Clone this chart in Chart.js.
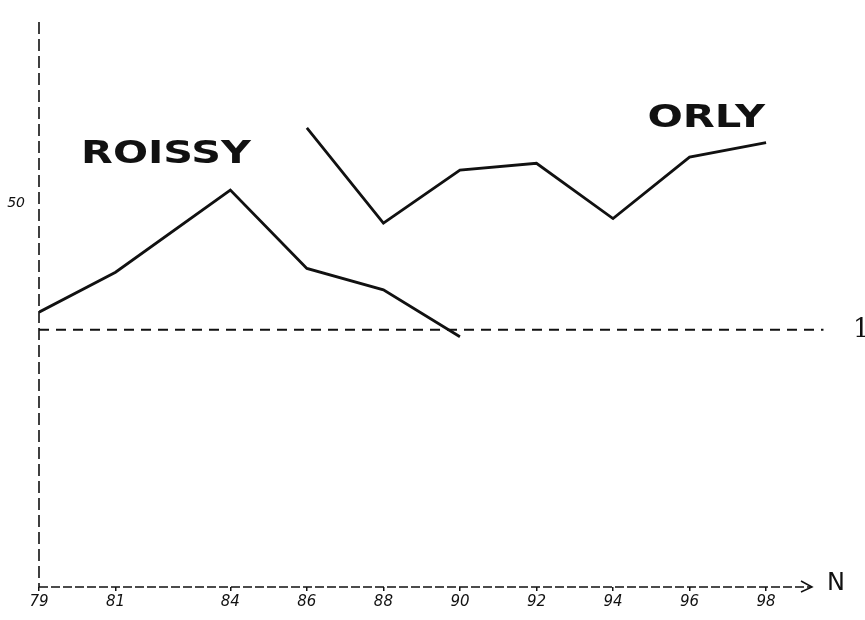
<!DOCTYPE html>
<html>
<head>
<meta charset="utf-8">
<script src="https://cdn.jsdelivr.net/npm/chart.js@4/dist/chart.umd.min.js"></script>
<style>
  html, body { margin: 0; padding: 0; background: #fff; }
  #wrap { width: 865px; height: 620px; }
</style>
</head>
<body>
<div id="wrap"><canvas id="c" width="865" height="620"></canvas></div>
<script>
// ---- data ----
const roissyYears  = [79, 81, 84, 86, 88, 90];
const roissyValues = [35.8, 41.0, 51.7, 41.5, 38.7, 32.6];
const orlyYears    = [86, 88, 90, 92, 94, 96, 98];
const orlyValues   = [59.8, 47.4, 54.3, 55.2, 48.0, 56.0, 57.9];
const refYears     = [79, 99.5];
const refValues    = [33.5, 33.5];
const xTickYears   = [79, 81, 84, 86, 88, 90, 92, 94, 96, 98];
const yTickValues  = [50];
const refTickValue = [33.5];
const refTickLabel = '1';
const seriesNames  = ['ROISSY', 'ORLY'];
const xAxisName    = 'N';

const toPoints = (xs, ys) => xs.map((x, i) => ({ x: x, y: ys[i] }));

// dashed hand-drawn style axes, drawn at the scales' own positions
const axes = {
  id: 'axes',
  beforeDatasetsDraw(chart) {
    const ctx = chart.ctx;
    const xs = chart.scales.x, ys = chart.scales.y;
    ctx.save();
    ctx.strokeStyle = '#111';
    ctx.lineWidth = 1.6;
    ctx.setLineDash([12, 5]);
    ctx.beginPath();
    ctx.moveTo(xs.left, ys.top);
    ctx.lineTo(xs.left, ys.bottom);
    ctx.stroke();
    ctx.setLineDash([9, 3]);
    ctx.beginPath();
    ctx.moveTo(xs.left, ys.bottom);
    ctx.lineTo(xs.right, ys.bottom);
    ctx.stroke();
    ctx.restore();
  }
};

const annotate = {
  id: 'annotate',
  afterDraw(chart) {
    const ctx = chart.ctx;
    const xs = chart.scales.x, ys = chart.scales.y;
    ctx.save();
    ctx.fillStyle = '#111';
    ctx.textBaseline = 'alphabetic';
    // series names
    const labels = [
      { t: seriesNames[0], x: 80.1, y: 55.2, sx: 1.29 },
      { t: seriesNames[1], x: 94.9, y: 59.9, sx: 1.30 }
    ];
    ctx.font = 'bold 32px "DejaVu Sans"';
    labels.forEach(l => {
      ctx.save();
      ctx.translate(xs.getPixelForValue(l.x), ys.getPixelForValue(l.y));
      ctx.scale(l.sx, 1);
      ctx.fillText(l.t, 0, 0);
      ctx.restore();
    });
    // arrow head at end of x axis
    const ax = xs.right, ay = ys.bottom;
    ctx.strokeStyle = '#111';
    ctx.lineWidth = 1.5;
    ctx.beginPath();
    ctx.moveTo(ax - 11, ay - 6);
    ctx.lineTo(ax, ay);
    ctx.lineTo(ax - 11, ay + 5);
    ctx.stroke();
    // axis name
    ctx.font = '24px "DejaVu Sans"';
    ctx.fillText(xAxisName, ax + 15, ay + 3);
    ctx.restore();
  }
};

const noPad = s => { s.paddingTop = 0; s.paddingBottom = 0; };

new Chart(document.getElementById('c'), {
  type: 'line',
  data: {
    datasets: [
      { label: seriesNames[0], data: toPoints(roissyYears, roissyValues),
        borderColor: '#111', borderWidth: 2.8, pointRadius: 0, tension: 0,
        borderJoinStyle: 'miter' },
      { label: seriesNames[1], data: toPoints(orlyYears, orlyValues),
        borderColor: '#111', borderWidth: 2.8, pointRadius: 0, tension: 0,
        borderJoinStyle: 'miter' },
      { label: 'ref', data: toPoints(refYears, refValues),
        borderColor: '#111', borderWidth: 2, borderDash: [10, 7],
        pointRadius: 0, clip: false }
    ]
  },
  options: {
    responsive: false,
    animation: false,
    events: [],
    layout: { padding: { top: 22, left: 0, right: 0, bottom: 0 } },
    plugins: { legend: { display: false }, tooltip: { enabled: false } },
    scales: {
      x: {
        type: 'linear', min: 79, max: 99.2,
        afterBuildTicks: s => { s.ticks = xTickYears.map(v => ({ value: v })); },
        afterFit: s => { s.height = 33; s.paddingLeft = 0; s.paddingRight = 0; },
        grid: { display: true, drawOnChartArea: false, drawTicks: true,
                tickLength: 4, color: '#111', lineWidth: 1.5 },
        border: { display: false },
        ticks: { color: '#111', padding: 2, maxRotation: 0, autoSkip: false,
                 font: { family: 'DejaVu Sans', size: 15, style: 'italic' },
                 callback: v => String(v) }
      },
      y: {
        type: 'linear', position: 'left', min: 0, max: 73.6,
        afterBuildTicks: s => { s.ticks = yTickValues.map(v => ({ value: v })); },
        afterFit: s => { s.width = 39; noPad(s); },
        grid: { display: false, drawTicks: false },
        border: { display: false },
        ticks: { color: '#111', padding: 14,
                 font: { family: 'DejaVu Sans', size: 14, style: 'italic' },
                 callback: v => String(v) }
      },
      y1: {
        type: 'linear', position: 'right', min: 0, max: 73.6,
        afterBuildTicks: s => { s.ticks = refTickValue.map(v => ({ value: v })); },
        afterFit: s => { s.width = 53; noPad(s); },
        grid: { display: false, drawTicks: false },
        border: { display: false },
        ticks: { color: '#111', padding: 41,
                 font: { family: 'DejaVu Serif', size: 26 },
                 callback: () => refTickLabel }
      }
    }
  },
  plugins: [axes, annotate]
});
</script>
</body>
</html>
